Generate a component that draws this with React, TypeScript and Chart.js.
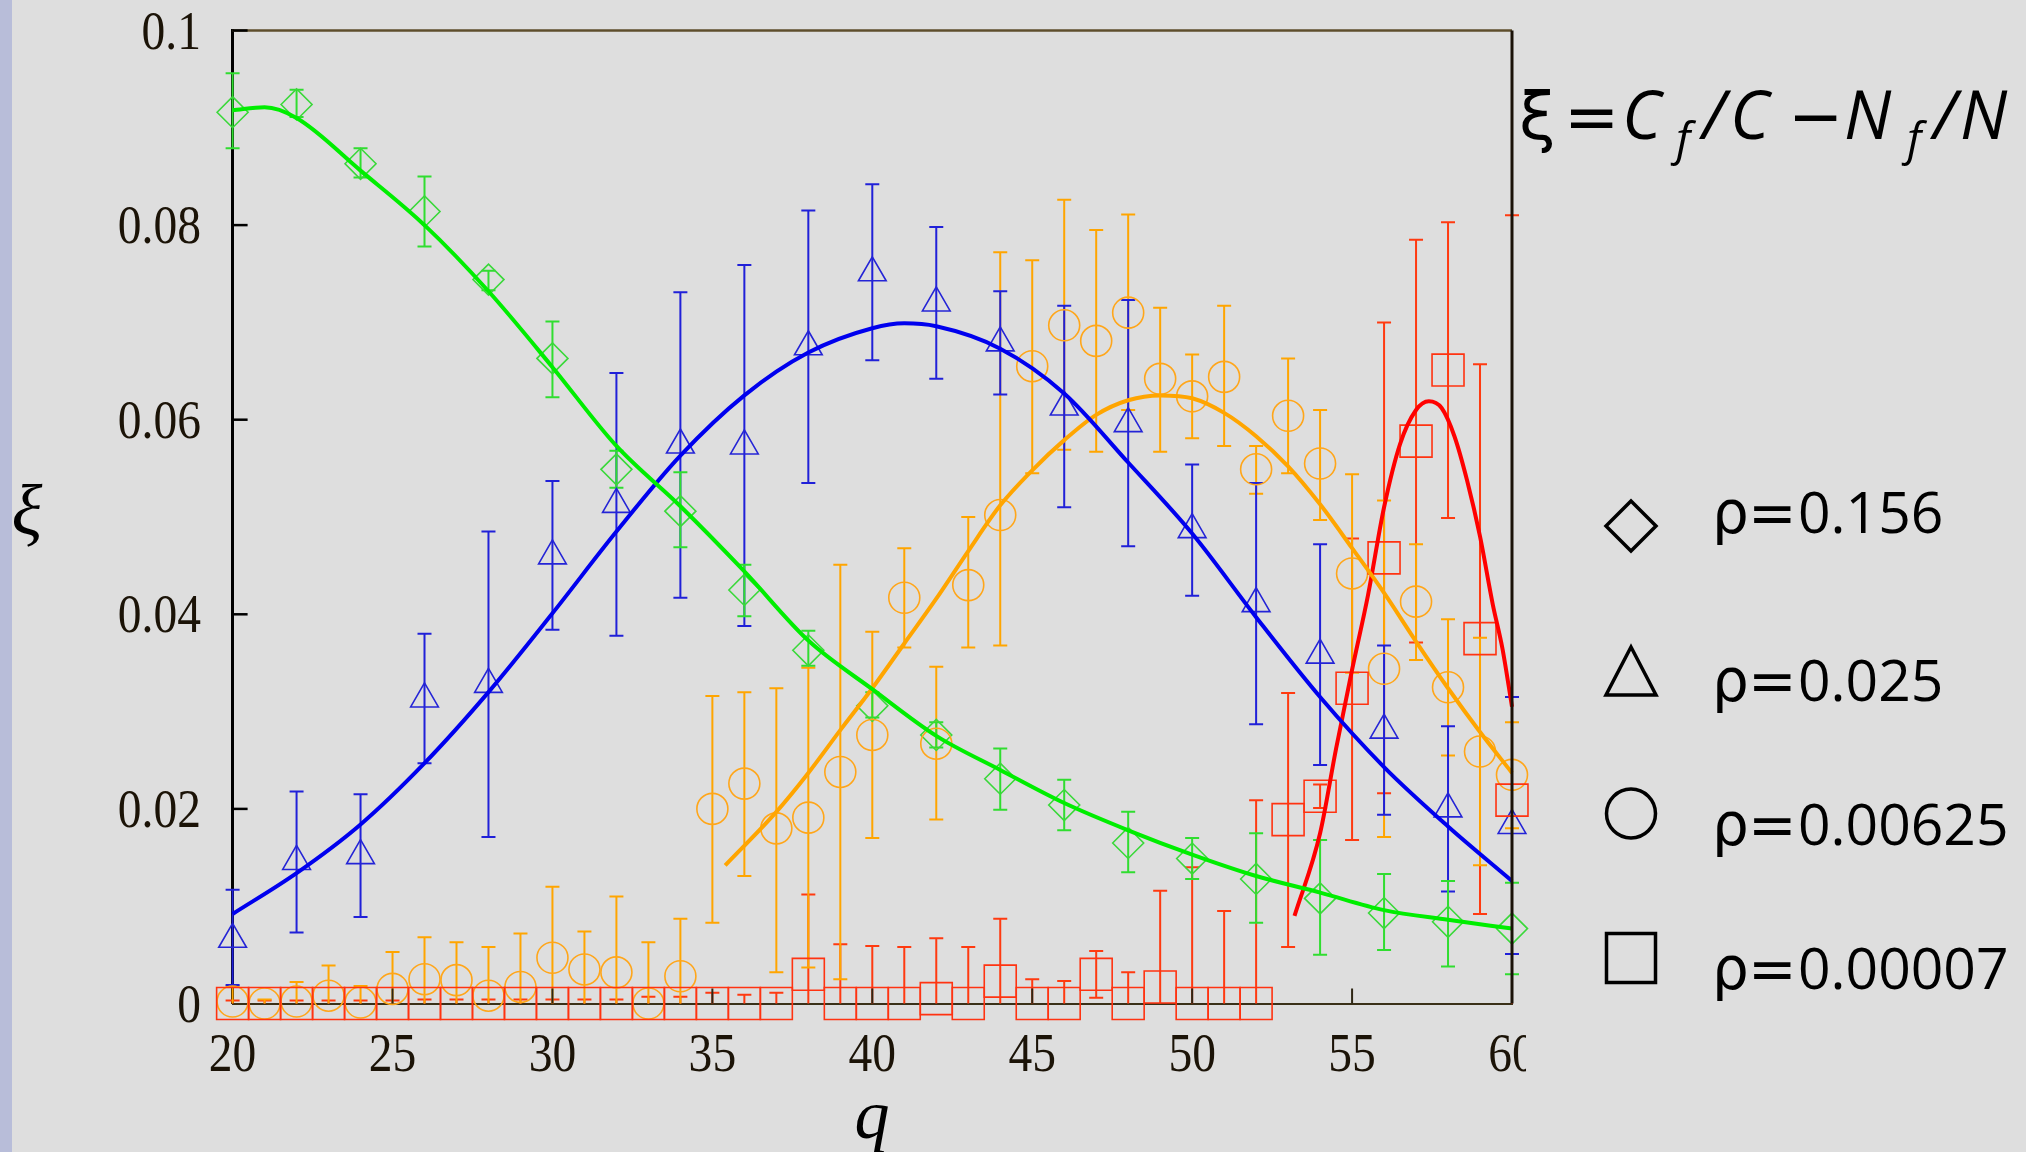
import React, { useEffect, useRef } from 'react';
import { Chart, registerables } from 'chart.js';

Chart.register(...registerables);

const W = 2026;
const H = 1152;
const BG = '#dedede';

// ---------- data ----------
const qEven = [20, 22, 24, 26, 28, 30, 32, 34, 36, 38, 40, 42, 44, 46, 48, 50, 52, 54, 56, 58, 60];
const qAll = [20, 21, 22, 23, 24, 25, 26, 27, 28, 29, 30, 31, 32, 33, 34, 35, 36, 37, 38, 39, 40,
  41, 42, 43, 44, 45, 46, 47, 48, 49, 50, 51, 52, 53, 54, 55, 56, 57, 58, 59, 60];

// rho = 0.156 (diamonds)
const greenVal = [0.0916, 0.0924, 0.0863, 0.0814, 0.0744, 0.0663, 0.0549, 0.0506, 0.0425, 0.0363, 0.0306,
  0.0276, 0.0231, 0.0204, 0.0165, 0.0149, 0.0128, 0.0108, 0.0093, 0.0084, 0.0077];
const greenLo = [0.0879, 0.0911, 0.0849, 0.0778, 0.0733, 0.0623, 0.0530, 0.0469, 0.0398, 0.0347, 0.0294,
  0.0263, 0.0199, 0.0178, 0.0135, 0.0128, 0.0083, 0.0050, 0.0055, 0.0038, 0.0030];
const greenHi = [0.0956, 0.0939, 0.0879, 0.0850, 0.0753, 0.0701, 0.0568, 0.0546, 0.0451, 0.0383, 0.0320,
  0.0289, 0.0262, 0.0230, 0.0197, 0.0170, 0.0175, 0.0168, 0.0133, 0.0126, 0.0124];
const greenFitQ = [20, 21, 22, 24, 26, 28, 30, 32, 34, 36, 38, 40, 42, 44, 46, 48, 50, 52, 54, 56, 58, 60];
const greenFitVal = [0.0918, 0.0921, 0.0910, 0.0856, 0.0800, 0.0732, 0.0654, 0.0573, 0.0511, 0.0444, 0.0373,
  0.0323, 0.0275, 0.0240, 0.0206, 0.0178, 0.0153, 0.0131, 0.0114, 0.0096, 0.0086, 0.0077];

// rho = 0.025 (triangles)
const blueVal = [0.0066, 0.0146, 0.0152, 0.0313, 0.0328, 0.0460, 0.0513, 0.0574, 0.0573, 0.0675, 0.0751,
  0.0720, 0.0679, 0.0613, 0.0596, 0.0487, 0.0411, 0.0358, 0.0281, 0.0200, 0.0183];
const blueLo = [0.0019, 0.0073, 0.0089, 0.0247, 0.0171, 0.0384, 0.0378, 0.0417, 0.0388, 0.0535, 0.0661,
  0.0642, 0.0626, 0.0510, 0.0470, 0.0419, 0.0287, 0.0245, 0.0194, 0.0115, 0.0051];
const blueHi = [0.0117, 0.0218, 0.0215, 0.0380, 0.0485, 0.0537, 0.0648, 0.0731, 0.0759, 0.0815, 0.0842,
  0.0798, 0.0732, 0.0717, 0.0723, 0.0554, 0.0535, 0.0472, 0.0368, 0.0285, 0.0315];
const blueFitQ = [20, 22, 24, 26, 28, 30, 32, 34, 36, 38, 40, 41, 42, 44, 46, 48, 50, 52, 54, 56, 58, 60];
const blueFitVal = [0.0092, 0.0134, 0.0184, 0.0247, 0.0320, 0.0401, 0.0485, 0.0563, 0.0625, 0.0669, 0.0694,
  0.0699, 0.0696, 0.0673, 0.0627, 0.0556, 0.0483, 0.0397, 0.0315, 0.0243, 0.0182, 0.0126];

// rho = 0.00625 (circles)
const orangeVal = [0.0002, 0.0000, 0.0002, 0.0008, 0.0001, 0.0015, 0.0025, 0.0024, 0.0008, 0.0017, 0.0047,
  0.0035, 0.0032, 0.0000, 0.0028, 0.0200, 0.0226, 0.0180, 0.0191, 0.0238, 0.0276, 0.0417, 0.0267, 0.0430,
  0.0502, 0.0655, 0.0697, 0.0681, 0.0710, 0.0642, 0.0624, 0.0644, 0.0549, 0.0604, 0.0555, 0.0442, 0.0344,
  0.0413, 0.0325, 0.0259, 0.0235];
const orangeLo = [0, 0, 0, 0, 0, 0, 0, 0, 0, 0, 0, 0, 0, 0, 0, 0.0083, 0.0131, 0.0032, 0.0037, 0.0025, 0.0170,
  0.0366, 0.0189, 0.0366, 0.0368, 0.0545, 0.0569, 0.0567, 0.0610, 0.0567, 0.0581, 0.0573, 0.0524, 0.0545,
  0.0497, 0.0340, 0.0171, 0.0353, 0.0255, 0.0142, 0.0180];
const orangeHi = [0.0018, 0.0004, 0.0022, 0.0039, 0.0018, 0.0053, 0.0068, 0.0063, 0.0058, 0.0072, 0.0120,
  0.0074, 0.0110, 0.0063, 0.0087, 0.0316, 0.0320, 0.0324, 0.0345, 0.0451, 0.0382, 0.0468, 0.0346, 0.0500,
  0.0772, 0.0764, 0.0826, 0.0795, 0.0811, 0.0715, 0.0667, 0.0717, 0.0573, 0.0663, 0.0610, 0.0544, 0.0517,
  0.0472, 0.0395, 0.0376, 0.0289];
const orangeFitQ = [35.4, 37, 38, 39, 40, 41, 42, 43, 44, 45, 46, 47, 48, 49, 50, 51, 52, 53, 54, 55, 56, 57, 58, 59, 60];
const orangeFitVal = [0.0142, 0.0197, 0.0237, 0.0281, 0.0324, 0.0370, 0.0416, 0.0465, 0.0512, 0.0548, 0.0579,
  0.0605, 0.0620, 0.0625, 0.0622, 0.0607, 0.0583, 0.0552, 0.0513, 0.0468, 0.0422, 0.0372, 0.0324, 0.0279, 0.0237];

// rho = 0.00007 (squares)
const redVal = [0, 0, 0, 0, 0, 0, 0, 0, 0, 0, 0, 0, 0, 0, 0, 0, 0, 0, 0.0030, 0, 0, 0, 0.0005, 0, 0.0023,
  0, 0, 0.0030, 0, 0.0017, 0, 0, 0, 0.0189, 0.0213, 0.0324, 0.0458, 0.0578, 0.0651, 0.0375, 0.0209];
const redLo = [0, 0, 0, 0, 0, 0, 0, 0, 0, 0, 0, 0, 0, 0, 0, 0, 0, 0, 0, 0, 0, 0, 0, 0, 0,
  0, 0, 0.0006, 0, 0, 0, 0, 0, 0.0058, 0.0201, 0.0168, 0.0216, 0.0371, 0.0499, 0.0092, 0];
const redHi = [0.0003, 0.0003, 0.0003, 0.0003, 0.0003, 0.0003, 0.0004, 0.0004, 0.0004, 0.0004, 0.0004, 0.0004,
  0.0004, 0.0007, 0.0007, 0.0011, 0.0009, 0.0011, 0.0112, 0.0061, 0.0059, 0.0058, 0.0067, 0.0058, 0.0087,
  0.0025, 0.0023, 0.0054, 0.0032, 0.0116, 0.0140, 0.0095, 0.0209, 0.0319, 0.0225, 0.0478, 0.0700, 0.0785,
  0.0803, 0.0657, 0.0810];
const redFitQ = [53.2, 54, 54.5, 55, 55.5, 56, 56.5, 57, 57.4, 57.8, 58.2, 58.6, 59, 59.4, 59.7, 60];
const redFitVal = [0.0090, 0.0175, 0.0262, 0.0343, 0.0420, 0.0510, 0.0575, 0.0610, 0.0619, 0.0612, 0.0583,
  0.0537, 0.0480, 0.0410, 0.0365, 0.0305];

const legendLabels = ['0.156', '0.025', '0.00625', '0.00007'];
const xTickStep = 5;
const yTickStep = 0.02;

// ---------- helpers ----------
const pts = (q: number[], v: number[], lo?: number[], hi?: number[]) =>
  q.map((x, i) => ({ x, y: v[i], lo: lo ? lo[i] : undefined, hi: hi ? hi[i] : undefined }));

const fmtY = (v: number) => (Math.abs(v) < 1e-9 ? '0' : String(Number(v.toFixed(2))));

function condensedText(ctx: CanvasRenderingContext2D, text: string, x: number, y: number, sx: number) {
  ctx.save();
  ctx.translate(x, y);
  ctx.scale(sx, 1);
  ctx.fillText(text, 0, 0);
  ctx.restore();
}

const errorBarPlugin = {
  id: 'errorBars',
  beforeDatasetsDraw(chart: any) {
    const { ctx } = chart;
    const xs = chart.scales.x;
    const ys = chart.scales.y;
    ctx.save();
    chart.data.datasets.forEach((ds: any) => {
      if (!ds.errColor) return;
      ctx.strokeStyle = ds.errColor;
      ctx.lineWidth = 2;
      ds.data.forEach((p: any) => {
        if (p.hi === undefined || p.hi - p.lo <= 0) return;
        const px = xs.getPixelForValue(p.x);
        const yl = ys.getPixelForValue(p.lo);
        const yh = ys.getPixelForValue(p.hi);
        ctx.beginPath();
        ctx.moveTo(px, yl);
        ctx.lineTo(px, yh);
        ctx.moveTo(px - 7, yh);
        ctx.lineTo(px + 7, yh);
        if (p.lo > 0) {
          ctx.moveTo(px - 7, yl);
          ctx.lineTo(px + 7, yl);
        }
        ctx.stroke();
      });
    });
    ctx.restore();
  },
};

const framePlugin = {
  id: 'frame',
  afterDatasetsDraw(chart: any) {
    const { ctx, chartArea: a } = chart;
    const xs = chart.scales.x;
    const ys = chart.scales.y;
    ctx.save();
    // top border
    ctx.strokeStyle = '#5e4e2c';
    ctx.lineWidth = 2.5;
    ctx.beginPath();
    ctx.moveTo(a.left, a.top);
    ctx.lineTo(a.right, a.top);
    ctx.stroke();
    // right border
    ctx.strokeStyle = '#1a1208';
    ctx.lineWidth = 3;
    ctx.beginPath();
    ctx.moveTo(a.right, a.top);
    ctx.lineTo(a.right, a.bottom);
    ctx.stroke();
    // inward y ticks
    ctx.strokeStyle = '#000';
    ctx.lineWidth = 2.5;
    ys.ticks.forEach((t: any) => {
      if (t.value <= 0) return;
      const py = ys.getPixelForValue(t.value);
      ctx.beginPath();
      ctx.moveTo(a.left, py);
      ctx.lineTo(a.left + 15, py);
      ctx.stroke();
    });
    // inward x ticks
    ctx.strokeStyle = '#2e2614';
    ctx.lineWidth = 2;
    xs.ticks.forEach((t: any) => {
      if (t.value <= 20 || t.value >= 60) return;
      const px = xs.getPixelForValue(t.value);
      ctx.beginPath();
      ctx.moveTo(px, a.bottom);
      ctx.lineTo(px, a.bottom - 15);
      ctx.stroke();
    });
    ctx.restore();
  },
  afterDraw(chart: any) {
    const { ctx } = chart;
    const xs = chart.scales.x;
    const ys = chart.scales.y;
    ctx.save();

    // tick labels (tall, narrow serif like the reference)
    ctx.fillStyle = '#1b1307';
    ctx.font = '54px "Liberation Serif"';
    ctx.textBaseline = 'alphabetic';
    ctx.textAlign = 'right';
    ys.ticks.forEach((t: any) => {
      const py = ys.getPixelForValue(t.value);
      condensedText(ctx, fmtY(t.value), 201, py + 18, 0.88);
    });
    ctx.textAlign = 'center';
    xs.ticks.forEach((t: any) => {
      const px = xs.getPixelForValue(t.value);
      condensedText(ctx, String(t.value), px, 1071, 0.88);
    });
    // crop of the last tick label, as in the reference
    ctx.fillStyle = BG;
    ctx.fillRect(1526, 1018, 80, 80);

    // axis titles
    ctx.fillStyle = '#000';
    ctx.textAlign = 'center';
    ctx.font = 'italic 72px "Liberation Serif"';
    ctx.fillText('ξ', 27, 535);
    ctx.font = 'italic 70px "Liberation Serif"';
    ctx.fillText('q', 872, 1138);

    // formula
    ctx.textAlign = 'left';
    const base = 139;
    const up = '66px "DejaVu Sans"';
    const it = 'italic 67px "Open Sans"';
    const sub = 'italic 46px "Open Sans"';
    const parts: [string, string, number, number][] = [
      ['ξ', up, 1519, base],
      ['=', up, 1564, base],
      ['C', it, 1622, base],
      ['f', sub, 1676, base + 16],
      ['/', it, 1702, base],
      ['C', it, 1730, base],
      ['−', up, 1788, base],
      ['N', it, 1844, base],
      ['f', sub, 1907, base + 16],
      ['/', it, 1933, base],
      ['N', it, 1960, base],
    ];
    parts.forEach(([t, f, x, y]) => {
      ctx.font = f;
      ctx.fillText(t, x, y);
    });

    // legend
    const cx = 1631;
    const rows = [526, 669, 813.5, 958];
    const bases = [533, 701, 845, 989];
    ctx.strokeStyle = '#000';
    ctx.lineWidth = 3.5;
    ctx.beginPath();
    ctx.moveTo(cx, rows[0] - 25);
    ctx.lineTo(cx + 25, rows[0]);
    ctx.lineTo(cx, rows[0] + 25);
    ctx.lineTo(cx - 25, rows[0]);
    ctx.closePath();
    ctx.stroke();
    ctx.beginPath();
    ctx.moveTo(cx, 647);
    ctx.lineTo(cx + 25, 695);
    ctx.lineTo(cx - 25, 695);
    ctx.closePath();
    ctx.stroke();
    ctx.beginPath();
    ctx.arc(cx, rows[2], 24.5, 0, Math.PI * 2);
    ctx.stroke();
    ctx.strokeRect(cx - 24.5, rows[3] - 24.5, 49, 49);

    legendLabels.forEach((lab, i) => {
      ctx.font = '58px "DejaVu Sans"';
      ctx.fillText('ρ', 1712, bases[i]);
      ctx.fillText('=', 1748, bases[i]);
      ctx.font = '57px "Open Sans"';
      ctx.fillText(lab, 1798, bases[i]);
    });
    ctx.restore();
  },
};

export default function App() {
  const ref = useRef<HTMLCanvasElement | null>(null);

  useEffect(() => {
    if (!ref.current) return;
    const markerBase = {
      showLine: false,
      clip: false as any,
      backgroundColor: 'rgba(0,0,0,0)',
      pointBorderWidth: 1.6,
      order: 2,
    };
    const fitBase = {
      showLine: true,
      pointRadius: 0,
      borderWidth: 4,
      cubicInterpolationMode: 'monotone' as const,
      clip: false as any,
      order: 0,
    };
    const chart = new Chart(ref.current, {
      type: 'scatter',
      data: {
        datasets: [
          {
            ...markerBase,
            label: 'ρ=0.00007',
            data: pts(qAll, redVal, redLo, redHi),
            pointStyle: 'rect',
            pointRadius: 22.6,
            borderColor: '#ff3311',
            pointBorderColor: '#ff3311',
            errColor: '#ff3a10',
          } as any,
          {
            ...markerBase,
            label: 'ρ=0.00625',
            data: pts(qAll, orangeVal, orangeLo, orangeHi),
            pointStyle: 'circle',
            pointRadius: 15.5,
            borderColor: '#ffa61a',
            pointBorderColor: '#ffa61a',
            errColor: '#ffa500',
          } as any,
          {
            ...markerBase,
            label: 'ρ=0.025',
            data: pts(qEven, blueVal, blueLo, blueHi),
            pointStyle: 'triangle',
            pointRadius: 16,
            borderColor: '#2424d6',
            pointBorderColor: '#2424d6',
            errColor: '#2020d8',
          } as any,
          {
            ...markerBase,
            label: 'ρ=0.156',
            data: pts(qEven, greenVal, greenLo, greenHi),
            pointStyle: 'rectRot',
            pointRadius: 15.5,
            borderColor: '#3ad83a',
            pointBorderColor: '#3ad83a',
            errColor: '#30dd30',
          } as any,
          { ...fitBase, label: 'fit 0.156', data: pts(greenFitQ, greenFitVal), borderColor: '#00ee00' } as any,
          { ...fitBase, label: 'fit 0.025', data: pts(blueFitQ, blueFitVal), borderColor: '#0000ee' } as any,
          { ...fitBase, label: 'fit 0.00625', data: pts(orangeFitQ, orangeFitVal), borderColor: '#ffa500' } as any,
          { ...fitBase, label: 'fit 0.00007', data: pts(redFitQ, redFitVal), borderColor: '#ff0000' } as any,
        ],
      },
      options: {
        responsive: false,
        animation: false,
        devicePixelRatio: 1,
        events: [],
        layout: { padding: { left: 0, right: W - 1512, top: 30.5, bottom: 0 } },
        plugins: { legend: { display: false }, tooltip: { enabled: false }, title: { display: false } },
        scales: {
          x: {
            type: 'linear',
            min: 20,
            max: 60,
            grid: { display: false },
            border: { display: true, color: '#3a3018', width: 2 },
            ticks: { display: false, stepSize: xTickStep, autoSkip: false, maxRotation: 0 },
            afterFit: (s: any) => {
              s.height = H - 1003.5;
              s.paddingLeft = 0;
              s.paddingRight = 0;
            },
          },
          y: {
            type: 'linear',
            min: 0,
            max: 0.1,
            grid: { display: false },
            border: { display: true, color: '#000', width: 3 },
            ticks: { display: false, stepSize: yTickStep },
            afterFit: (s: any) => {
              s.width = 232.6;
              s.paddingTop = 0;
              s.paddingBottom = 0;
            },
          },
        },
      } as any,
      plugins: [errorBarPlugin, framePlugin],
    });
    return () => chart.destroy();
  }, []);

  return (
    <div style={{ position: 'fixed', left: 0, top: 0, width: W, height: H, background: BG, overflow: 'hidden' }}>
      <div style={{ position: 'absolute', left: 0, top: 0, width: 12, height: H, background: '#b8bdd9' }} />
      <canvas ref={ref} width={W} height={H} style={{ position: 'absolute', left: 0, top: 0, width: W, height: H }} />
    </div>
  );
}
